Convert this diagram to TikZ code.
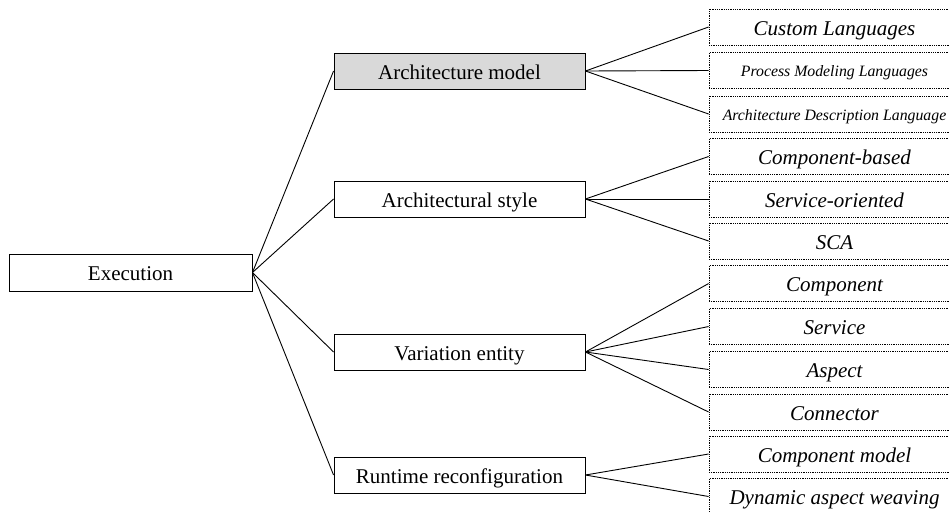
\documentclass[tikz,border=0pt]{standalone}
\usepackage{fontspec}
\setmainfont{Liberation Serif}
\begin{document}
\begin{tikzpicture}[x=1pt,y=-1pt,
  mainbox/.style={draw, line width=0.9pt, minimum width=251pt, minimum height=36pt, inner sep=0pt, text height=18pt, text depth=2pt, font=\fontsize{21}{25}\selectfont},
  rootbox/.style={draw, line width=0.9pt, minimum width=243pt, minimum height=37pt, inner sep=0pt, text height=18pt, text depth=2pt, font=\fontsize{21}{25}\selectfont},
  leafbox/.style={draw, densely dotted, line width=0.8pt, minimum width=251pt, minimum height=36pt, inner sep=0pt, text height=18pt, text depth=2pt, font=\fontsize{21}{25}\selectfont\itshape},
  smallleaf/.style={leafbox, text height=13.5pt, text depth=1.5pt, font=\fontsize{15.8}{19}\selectfont\itshape},
  link/.style={line width=0.9pt}
]
\useasboundingbox (0,0) rectangle (949,512);

\node[rootbox] (ex) at (130.5,272.5) {Execution};

\node[mainbox, fill={rgb,255:red,217;green,217;blue,217}] (am) at (459.5,71) {Architecture model};
\node[mainbox] (as) at (459.5,199) {Architectural style};
\node[mainbox] (ve) at (459.5,352) {Variation entity};
\node[mainbox] (rr) at (459.5,475) {Runtime reconfiguration};

\node[leafbox] (l1) at (834.5,27) {Custom Languages};
\node[smallleaf] (l2) at (834.5,70.5) {Process Modeling Languages};
\node[smallleaf] (l3) at (834.5,114) {Architecture Description Language};
\node[leafbox] (l4) at (834.5,156.5) {Component-based};
\node[leafbox] (l5) at (834.5,199) {Service-oriented};
\node[leafbox] (l6) at (834.5,241) {SCA};
\node[leafbox] (l7) at (834.5,283.5) {Component};
\node[leafbox] (l8) at (834.5,326.5) {Service};
\node[leafbox] (l9) at (834.5,369.5) {Aspect};
\node[leafbox] (l10) at (834.5,412) {Connector};
\node[leafbox] (l11) at (834.5,454) {Component model};
\node[leafbox] (l12) at (834.5,496.5) {Dynamic aspect weaving};

\foreach \m in {am,as,ve,rr} \draw[link] (ex.east) -- (\m.west);
\foreach \l in {l1,l2,l3} \draw[link] (am.east) -- (\l.west);
\foreach \l in {l4,l5,l6} \draw[link] (as.east) -- (\l.west);
\foreach \l in {l7,l8,l9,l10} \draw[link] (ve.east) -- (\l.west);
\foreach \l in {l11,l12} \draw[link] (rr.east) -- (\l.west);
\end{tikzpicture}
\end{document}
